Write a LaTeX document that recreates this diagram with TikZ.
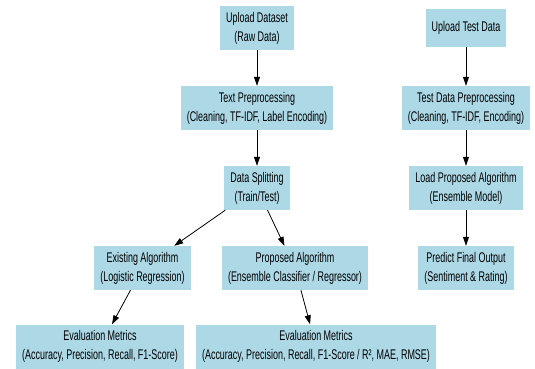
\documentclass[tikz,border=0pt]{standalone}
\usepackage{fontspec}
\setmainfont[FakeStretch=0.64]{Liberation Sans}
\usetikzlibrary{arrows.meta}
\definecolor{boxblue}{HTML}{ADD8E6}

\begin{document}
\begin{tikzpicture}[x=1pt, y=-1pt,
    stage/.style={fill=boxblue, align=center, inner xsep=6pt, inner ysep=0pt,
        minimum height=44pt, font=\fontsize{14}{19}\selectfont},
    flow/.style={-{Triangle[length=9pt,width=6pt]}, line width=0.8pt, black}]

    \useasboundingbox (0,0) rectangle (535,369);

    %% ── Training pipeline ──────────────────────────────────────────────
    \node[stage] (upload) at (257,28) {Upload Dataset\\(Raw Data)};
    \node[stage] (textpre) at (257,108)
        {Text Preprocessing\\(Cleaning, TF-IDF, Label Encoding)};
    \node[stage] (split) at (257,188) {Data Splitting\\(Train/Test)};
    \node[stage] (exist) at (142.5,268)
        {Existing Algorithm\\(Logistic Regression)};
    \node[stage] (prop) at (295,268)
        {Proposed Algorithm\\(Ensemble Classifier / Regressor)};
    \node[stage] (evalL) at (100,346.5)
        {Evaluation Metrics\\(Accuracy, Precision, Recall, F1-Score)};
    \node[stage] (evalR) at (316,346.5)
        {Evaluation Metrics\\(Accuracy, Precision, Recall, F1-Score / R², MAE, RMSE)};

    %% ── Test pipeline ──────────────────────────────────────────────────
    \node[stage, minimum height=38pt] (uptest) at (466,28) {Upload Test Data};
    \node[stage] (testpre) at (466,108)
        {Test Data Preprocessing\\(Cleaning, TF-IDF, Encoding)};
    \node[stage] (load) at (466,188)
        {Load Proposed Algorithm\\(Ensemble Model)};
    \node[stage] (predict) at (466,268)
        {Predict Final Output\\(Sentiment \& Rating)};

    %% ── Arrows ─────────────────────────────────────────────────────────
    \draw[flow] (upload) -- (textpre);
    \draw[flow] (textpre) -- (split);
    \draw[flow] (split) -- (exist);
    \draw[flow] (split) -- (prop);
    \draw[flow] (exist) -- (evalL);
    \draw[flow] (prop) -- (evalR);

    \draw[flow] (uptest) -- (testpre);
    \draw[flow] (testpre) -- (load);
    \draw[flow] (load) -- (predict);

\end{tikzpicture}
\end{document}
